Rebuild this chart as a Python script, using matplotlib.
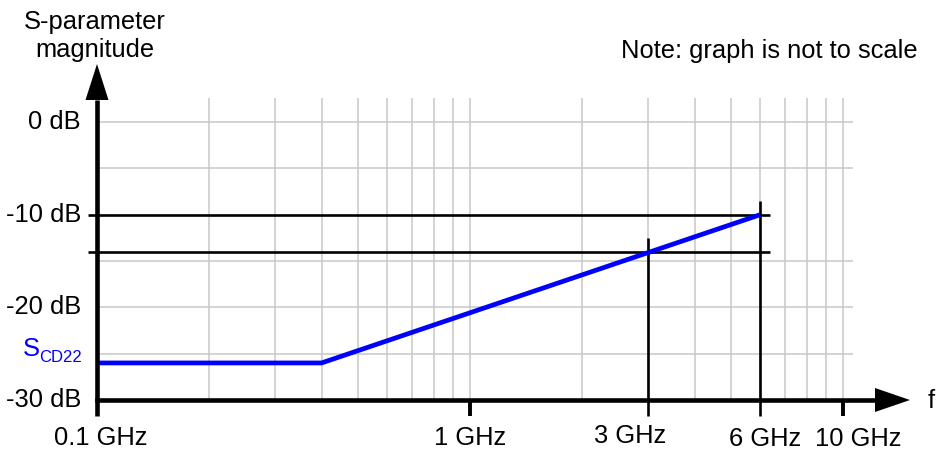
import matplotlib
matplotlib.use("Agg")
import matplotlib.pyplot as plt

plt.rcParams['font.family'] = ['Liberation Sans', 'DejaVu Sans']

# Gridline positions
grid_freqs = [0.2, 0.3, 0.4, 0.5, 0.6, 0.7, 0.8, 0.9,
              1, 2, 3, 4, 5, 6, 7, 8, 9, 10]          # GHz
grid_levels = [0, -5, -15, -20, -25]                  # dB

# Axis labels
level_ticks = [0, -10, -20, -30]
level_labels = ['0 dB', '-10 dB', '-20 dB', '-30 dB']
freq_ticks = [0.1, 1, 3, 6, 10]
freq_labels = ['0.1 GHz', '1 GHz', '3 GHz', '6 GHz', '10 GHz']

# S_CD22 asymptotic response
scd22_freq = [0.1, 0.4, 6]
scd22_db = [-26, -26, -10]

# Reference markers (frequency, level)
marker_freqs = [3, 6]
marker_levels = [-14, -10]

# ---- layout: pixel <-> data mapping ----
W, H = 940, 454
X0, DEC = 97, 373          # pixel of 0.1 GHz, pixels per decade
Y0, PDB = 122, 9.267       # pixel of 0 dB, pixels per dB


def fx(px):
    return 10 ** (-1 + (px - X0) / DEC)


def fy(py):
    return -(py - Y0) / PDB


fig = plt.figure(figsize=(W / 100, H / 100), dpi=100)
ax = fig.add_axes([0, 0, 1, 1])
ax.set_xscale('log')
ax.set_xlim(fx(0), fx(W))
ax.set_ylim(fy(H), fy(0))
ax.axis('off')

grid_kw = dict(color='#c8c8c8', lw=1.1, zorder=1, solid_capstyle='butt')
y_bottom = -30
y_gridtop = fy(98)
x_gridright = fx(853)
for f in grid_freqs:
    ax.plot([f, f], [y_bottom, y_gridtop], **grid_kw)
for lv in grid_levels:
    ax.plot([0.1, x_gridright], [lv, lv], **grid_kw)

# reference lines
line_kw = dict(color='black', lw=1.9, zorder=3, solid_capstyle='butt')
x_left = fx(88)
x_right = fx(770)
y_tickbot = fy(416)
for lv in marker_levels:
    ax.plot([x_left, x_right], [lv, lv], **line_kw)
top_px = {3: 238, 6: 201}
for f in marker_freqs:
    ax.plot([f, f], [y_tickbot, fy(top_px[f])], **line_kw)
for f in [1, 10]:
    ax.plot([f, f], [y_bottom, y_tickbot], color='black', lw=2.8,
            zorder=3, solid_capstyle='butt')

# response curve
ax.plot(scd22_freq, scd22_db, color='#0000ff', lw=3.4, zorder=4,
        solid_capstyle='butt', solid_joinstyle='miter')

# axes with arrowheads
axis_lw = 3.3
ax.plot([0.1, 0.1], [y_tickbot, fy(100)], color='black', lw=axis_lw,
        zorder=5, solid_capstyle='butt')
ax.plot([0.1, fx(876)], [y_bottom, y_bottom], color='black', lw=axis_lw,
        zorder=5, solid_capstyle='projecting')
ax.fill([0.1, fx(X0 - 11.5), fx(X0 + 11.5)],
        [fy(64), fy(100), fy(100)], color='black', zorder=5, lw=0)
ax.fill([fx(910), fx(875), fx(875)],
        [y_bottom, fy(400 - 12), fy(400 + 12)], color='black', zorder=5, lw=0)

FS = 18.4

# level labels
for lv, lab in zip(level_ticks, level_labels):
    ax.annotate(lab, xy=(0.1, lv), xytext=(-16, 0),
                textcoords='offset pixels', ha='right', va='center',
                fontsize=FS)

# frequency labels
label_dx = [4, 0, -18, 5, 15]
label_dy = [-38, -38, -36, -39, -39]
for f, lab, dx, dy in zip(freq_ticks, freq_labels, label_dx, label_dy):
    ax.annotate(lab, xy=(f, y_bottom), xytext=(dx, dy),
                textcoords='offset pixels', ha='center', va='center',
                fontsize=FS)

# curve name
ax.annotate('S', xy=(0.1, scd22_db[0]), xytext=(-74, 7),
            textcoords='offset pixels', ha='left', va='baseline',
            fontsize=FS, color='#0000ff')
ax.annotate('CD22', xy=(0.1, scd22_db[0]), xytext=(-15, 1),
            textcoords='offset pixels', ha='right', va='baseline',
            fontsize=12, color='#0000ff')

# axis titles
fig.text(95 / W, 1 - 22 / H, 'S-parameter', ha='center', va='center',
         fontsize=FS)
fig.text(95 / W, 1 - 50 / H, 'magnitude', ha='center', va='center',
         fontsize=FS)
fig.text(928 / W, 1 - 408 / H, 'f', ha='left', va='baseline', fontsize=FS)
fig.text(918 / W, 1 - 58 / H, 'Note: graph is not to scale', ha='right',
         va='baseline', fontsize=FS)

fig.savefig('out.png', dpi=100)
